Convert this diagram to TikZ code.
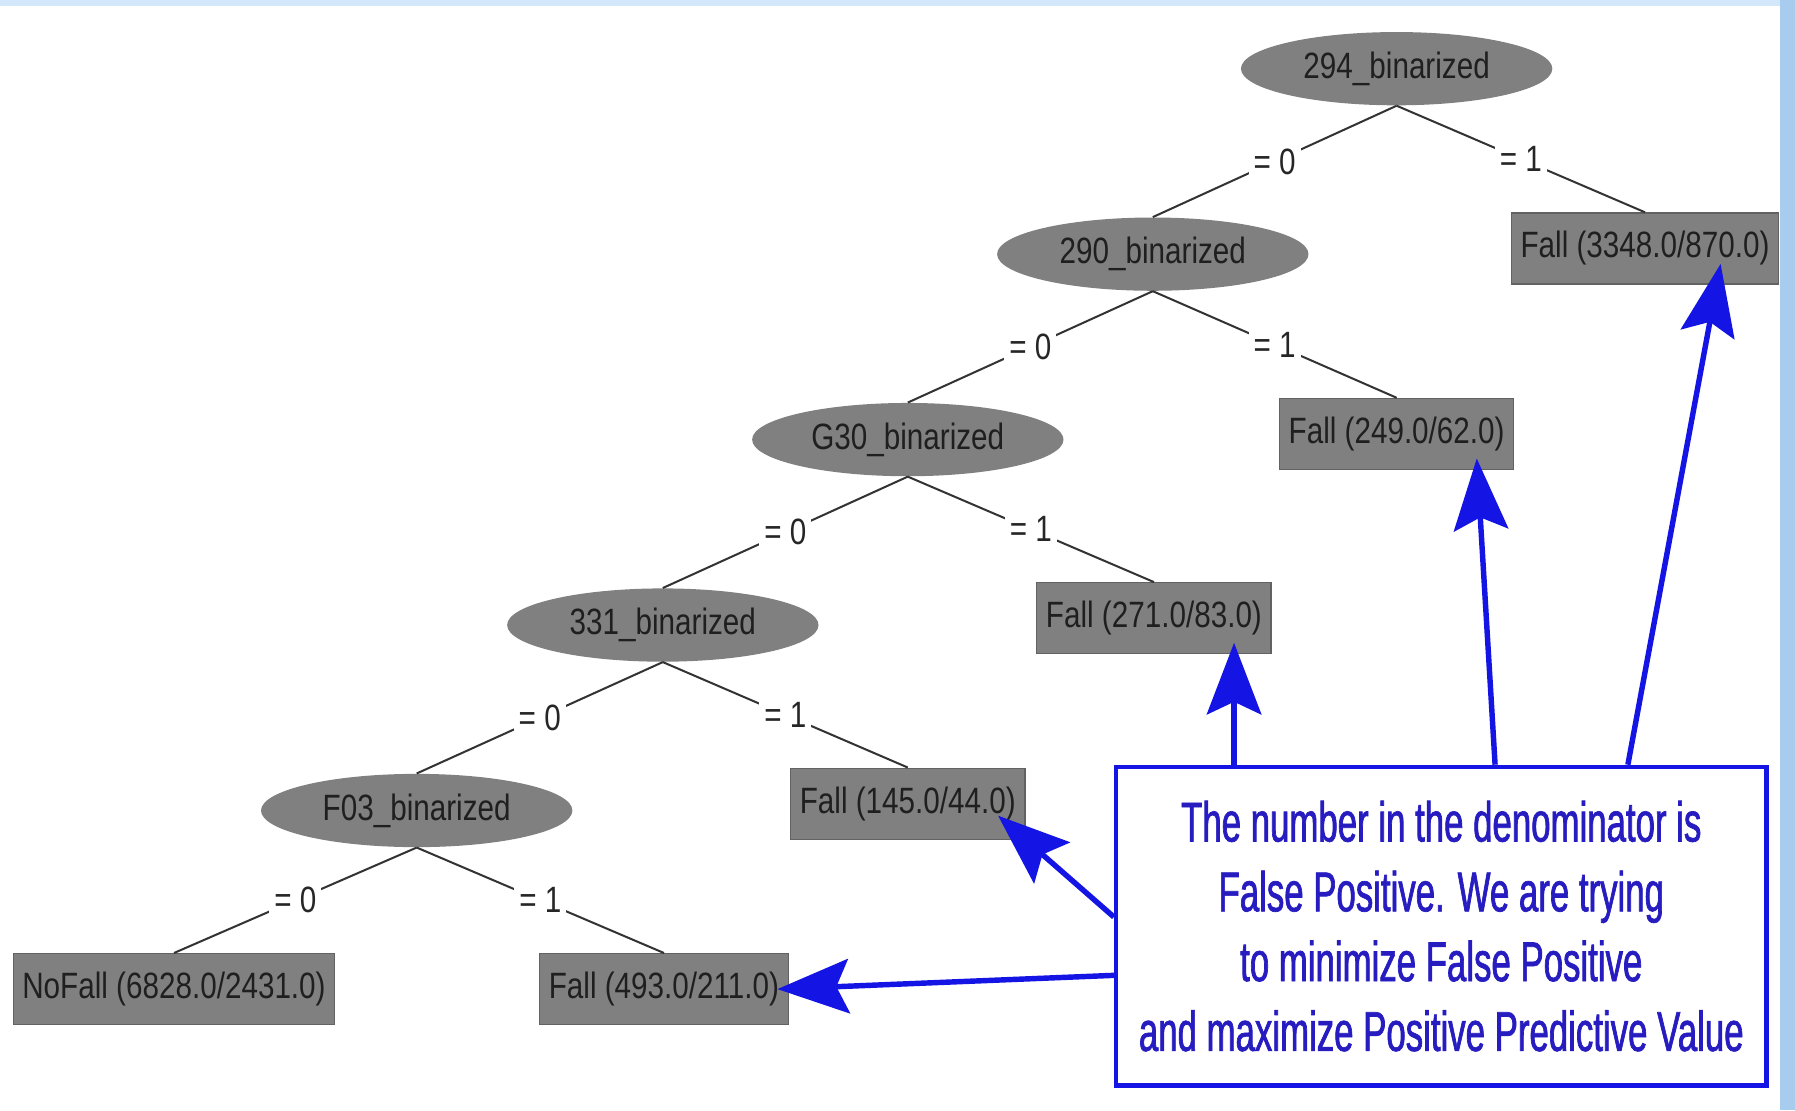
\documentclass[tikz,border=0pt]{standalone}
\usepackage{fontspec}
\newfontfamily\treefont[FakeStretch=0.81]{Liberation Sans}
\newfontfamily\notefont[FakeStretch=0.62, FakeBold=1.2]{Liberation Sans}
\usetikzlibrary{calc, arrows.meta, positioning, shapes.geometric}

\definecolor{nodegray}{RGB}{128,128,128}
\definecolor{bordergray}{RGB}{98,98,98}
\definecolor{noteblue}{RGB}{20,20,228}
\definecolor{notetext}{RGB}{38,28,192}
\definecolor{frameblue}{RGB}{168,204,238}
\definecolor{framelight}{RGB}{210,231,250}

\begin{document}
\begin{tikzpicture} [
		% define styles
		splitnodestyle/.style={
			% The shape:
			ellipse,
			% The size:
			minimum width=5.44cm,
			minimum height=1.28cm,
			inner sep=0pt,
			% The filling:
			fill=nodegray,
			% Font
			text=black!88,
			font=\treefont\fontsize{18.2}{22}\selectfont
		},
		leafnodestyle/.style={
			% The shape:
			rectangle,
			% The size:
			minimum height=1.24cm,
			inner xsep=0.16cm,
			% The border:
			draw=bordergray,
			line width=0.6pt,
			% The filling:
			fill=nodegray,
			% Font
			text=black!88,
			font=\treefont\fontsize{18.2}{22}\selectfont
		},
		notenodestyle/.style={
			% The shape:
			rectangle,
			% The size:
			minimum width=11.36cm,
			minimum height=5.56cm,
			% The border:
			draw=noteblue,
			line width=2.3pt,
			% The filling:
			fill=white,
			% Font
			align=center,
			text=notetext,
			font=\notefont\fontsize{27.9}{34.7}\selectfont
		},
		edge/.style={
			% Thickness
			line width=1pt,
			% Color
			black!80
		},
		edgelabel/.style={
			fill=white,
			inner sep=2.5pt,
			text=black!85,
			font=\treefont\fontsize{18.2}{22}\selectfont
		},
		arrowpointer/.style={
			-{Stealth[length=1.25cm, width=0.95cm, inset=0.22cm]},
			% Thickness
			line width=2.7pt,
			% Color
			noteblue
		}]
		% end of style definition

		% frame
		\useasboundingbox (0,0) rectangle (31.36,-19.4);
		\fill[white] (0,0) rectangle (31.36,-19.4);
		\fill[framelight] (0,0) rectangle (31.36,-0.1);
		\fill[frameblue] (31.1,0) rectangle (31.36,-19.4);

		% draw nodes
		\node (iN294) [splitnodestyle] at (24.4,-1.2) {294\_binarized};
		\node (iFall3348) [leafnodestyle] at (28.74,-4.34) {Fall (3348.0/870.0)};
		\node (iN290) [splitnodestyle] at (20.14,-4.44) {290\_binarized};
		\node (iFall249) [leafnodestyle] at (24.4,-7.58) {Fall (249.0/62.0)};
		\node (iG30) [splitnodestyle] at (15.86,-7.68) {G30\_binarized};
		\node (iFall271) [leafnodestyle] at (20.16,-10.8) {Fall (271.0/83.0)};
		\node (iN331) [splitnodestyle] at (11.58,-10.92) {331\_binarized};
		\node (iFall145) [leafnodestyle] at (15.86,-14.04) {Fall (145.0/44.0)};
		\node (iF03) [splitnodestyle] at (7.28,-14.16) {F03\_binarized};
		\node (iNoFall) [leafnodestyle] at (3.04,-17.28) {NoFall (6828.0/2431.0)};
		\node (iFall493) [leafnodestyle] at (11.6,-17.28) {Fall (493.0/211.0)};

		% connect nodes
		\draw [edge] (iN294.south) -- node [edgelabel] {= 0} (iN290.north);
		\draw [edge] (iN294.south) -- node [edgelabel] {= 1} (iFall3348.north);
		\draw [edge] (iN290.south) -- node [edgelabel] {= 0} (iG30.north);
		\draw [edge] (iN290.south) -- node [edgelabel] {= 1} (iFall249.north);
		\draw [edge] (iG30.south) -- node [edgelabel] {= 0} (iN331.north);
		\draw [edge] (iG30.south) -- node [edgelabel] {= 1} (iFall271.north);
		\draw [edge] (iN331.south) -- node [edgelabel] {= 0} (iF03.north);
		\draw [edge] (iN331.south) -- node [edgelabel] {= 1} (iFall145.north);
		\draw [edge] (iF03.south) -- node [edgelabel] {= 0} (iNoFall.north);
		\draw [edge] (iF03.south) -- node [edgelabel] {= 1} (iFall493.north);

		% the note
		\node (iNote) [notenodestyle] at (25.18,-16.18) {The number in the denominator is\\False Positive. We are trying\\to minimize False Positive\\and maximize Positive Predictive Value};

		% arrow tips
		\coordinate (tip271) at ([xshift=1.4cm, yshift=0.2cm]iFall271.south);
		\coordinate (tip249) at ([xshift=1.4cm, yshift=0.2cm]iFall249.south);
		\coordinate (tip3348) at ([xshift=1.32cm, yshift=0.36cm]iFall3348.south);
		\coordinate (tip145) at ([xshift=-0.48cm, yshift=0.42cm]iFall145.south east);
		\coordinate (tip493) at ([xshift=-0.2cm]iFall493.east);

		% connect note
		\draw [arrowpointer] (iNote.north -| tip271) -- (tip271);
		\draw [arrowpointer] ([xshift=0.94cm]iNote.north) -- (tip249);
		\draw [arrowpointer] ([xshift=3.26cm]iNote.north) -- (tip3348);
		\draw [arrowpointer] ([yshift=0.16cm]iNote.west) -- (tip145);
		\draw [arrowpointer] ([yshift=-0.86cm]iNote.west) -- (tip493);
	\end{tikzpicture}
\end{document}
